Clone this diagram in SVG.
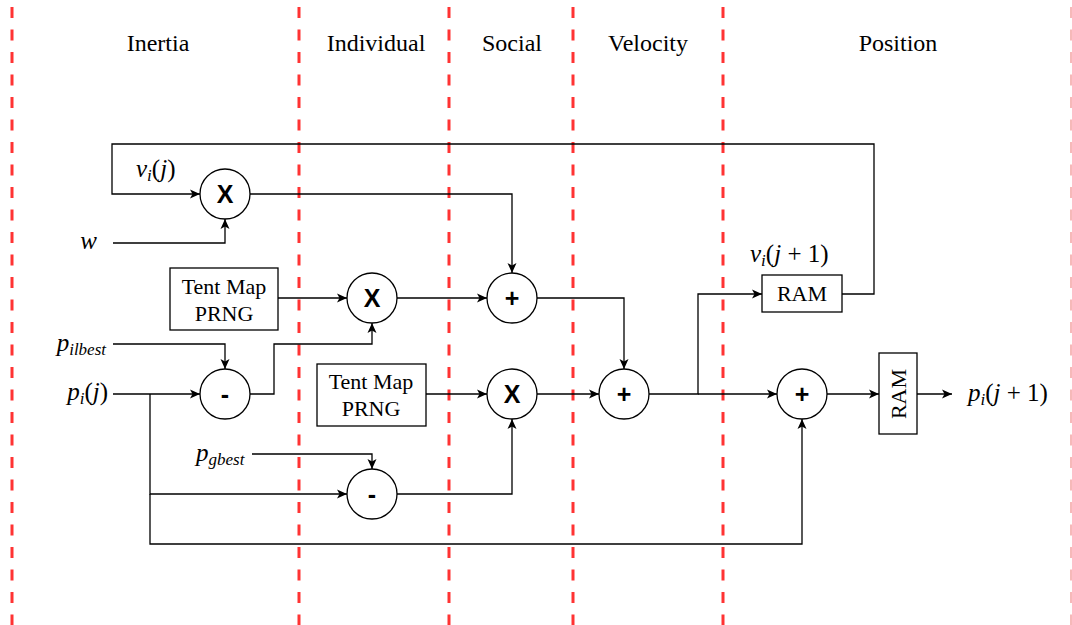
<svg xmlns="http://www.w3.org/2000/svg" width="1072" height="625" viewBox="0 0 1072 625">
<style>
.sep{stroke:#ff3333;stroke-width:3;stroke-dasharray:11 11.5;fill:none}
.sepl{stroke:#f4a3a3;stroke-width:1.5;stroke-dasharray:11 11.5;fill:none}
.hdr{font-family:"Liberation Serif","Times New Roman",serif;font-size:24px;text-anchor:middle;fill:#000}
.node circle,.node rect{fill:#fff;stroke:#000;stroke-width:1.3}
.op{font-family:"Liberation Sans",Arial,sans-serif;font-weight:bold;font-size:25px;text-anchor:middle;fill:#000}
.box{font-family:"Liberation Serif","Times New Roman",serif;font-size:22px;text-anchor:middle;fill:#000}
.math{font-family:"Liberation Serif","Times New Roman",serif;font-size:25px;fill:#000}
.it{font-style:italic}
.sub{font-style:italic;font-size:17px}
#connectors path{fill:none;stroke:#000;stroke-width:1.3}
</style>
<defs>
<marker id="arr" viewBox="0 0 10 10" refX="10" refY="5" markerWidth="10" markerHeight="10" markerUnits="userSpaceOnUse" orient="auto">
<path d="M0,0.5 L10,5 L0,9.5 L2.5,5 Z" fill="#000"/>
</marker>
</defs>
<rect width="1072" height="625" fill="#fff"/>
<g id="separators">
<line class="sep" x1="12" y1="7" x2="12" y2="625"/>
<line class="sep" x1="299" y1="7" x2="299" y2="625"/>
<line class="sep" x1="449" y1="7" x2="449" y2="625"/>
<line class="sep" x1="573" y1="7" x2="573" y2="625"/>
<line class="sep" x1="723" y1="7" x2="723" y2="625"/>
<line class="sepl" x1="1071" y1="7" x2="1071" y2="625"/>
</g>
<g id="headers">
<text class="hdr" x="158" y="51">Inertia</text>
<text class="hdr" x="376" y="51">Individual</text>
<text class="hdr" x="512" y="51">Social</text>
<text class="hdr" x="648" y="51">Velocity</text>
<text class="hdr" x="898" y="51">Position</text>
</g>
<g id="connectors">
<path d="M842,294 H874 V144 H112 V194 H200" marker-end="url(#arr)"/>
<path d="M113,243 H225 V219" marker-end="url(#arr)"/>
<path d="M250,194 H512 V273" marker-end="url(#arr)"/>
<path d="M278,298 H347" marker-end="url(#arr)"/>
<path d="M250,394 H274 V344 H372 V323" marker-end="url(#arr)"/>
<path d="M113,344 H225 V369" marker-end="url(#arr)"/>
<path d="M113,394 H200" marker-end="url(#arr)"/>
<path d="M150,394 V494 H347" marker-end="url(#arr)"/>
<path d="M150,494 V544 H802 V419" marker-end="url(#arr)"/>
<path d="M252,454 H372 V469" marker-end="url(#arr)"/>
<path d="M397,494 H512 V419" marker-end="url(#arr)"/>
<path d="M426,394 H487" marker-end="url(#arr)"/>
<path d="M397,298 H487" marker-end="url(#arr)"/>
<path d="M537,298 H624 V369" marker-end="url(#arr)"/>
<path d="M537,394 H599" marker-end="url(#arr)"/>
<path d="M649,394 H698 V294 H762" marker-end="url(#arr)"/>
<path d="M698,394 H777" marker-end="url(#arr)"/>
<path d="M827,394 H879" marker-end="url(#arr)"/>
<path d="M917,394 H952" marker-end="url(#arr)"/>
</g>
<g id="mul1" class="node"><circle cx="225" cy="194" r="25"/><text class="op" x="225" y="203">X</text></g>
<g id="mul2" class="node"><circle cx="372" cy="298" r="25"/><text class="op" x="372" y="307">X</text></g>
<g id="add1" class="node"><circle cx="512" cy="298" r="25"/><text class="op" x="512" y="307">+</text></g>
<g id="sub1" class="node"><circle cx="225" cy="394" r="25"/><text class="op" x="225" y="403">-</text></g>
<g id="mul3" class="node"><circle cx="512" cy="394" r="25"/><text class="op" x="512" y="403">X</text></g>
<g id="add2" class="node"><circle cx="624" cy="394" r="25"/><text class="op" x="624" y="403">+</text></g>
<g id="add3" class="node"><circle cx="802" cy="394" r="25"/><text class="op" x="802" y="403">+</text></g>
<g id="sub2" class="node"><circle cx="372" cy="494" r="25"/><text class="op" x="372" y="503">-</text></g>
<g id="prng1" class="node"><rect x="170" y="268" width="108" height="62"/><text class="box" x="224" y="294">Tent Map</text><text class="box" x="224" y="321">PRNG</text></g>
<g id="prng2" class="node"><rect x="317" y="364" width="109" height="62"/><text class="box" x="371" y="389">Tent Map</text><text class="box" x="371" y="416">PRNG</text></g>
<g id="ram1" class="node"><rect x="762" y="275" width="80" height="37"/><text class="box" x="802" y="301">RAM</text></g>
<g id="ram2" class="node"><rect x="879" y="353" width="38" height="81"/><text class="box" transform="translate(906,394) rotate(-90)" x="0" y="0">RAM</text></g>
<g id="labels">
<text class="math" x="136" y="177"><tspan class="it">v</tspan><tspan class="sub" dy="4">i</tspan><tspan dy="-4">(</tspan><tspan class="it">j</tspan>)</text>
<text class="math" x="97" y="249" text-anchor="end"><tspan class="it">w</tspan></text>
<text class="math" x="106" y="351" text-anchor="end"><tspan class="it">p</tspan><tspan class="sub" dy="4">ilbest</tspan></text>
<text class="math" x="108" y="400" text-anchor="end"><tspan class="it">p</tspan><tspan class="sub" dy="4">i</tspan><tspan dy="-4">(</tspan><tspan class="it">j</tspan>)</text>
<text class="math" x="196" y="461"><tspan class="it">p</tspan><tspan class="sub" dy="4">gbest</tspan></text>
<text class="math" x="750" y="262"><tspan class="it">v</tspan><tspan class="sub" dy="4">i</tspan><tspan dy="-4">(</tspan><tspan class="it">j</tspan> + 1)</text>
<text class="math" x="968" y="401"><tspan class="it">p</tspan><tspan class="sub" dy="4">i</tspan><tspan dy="-4">(</tspan><tspan class="it">j</tspan> + 1)</text>
</g>
</svg>
